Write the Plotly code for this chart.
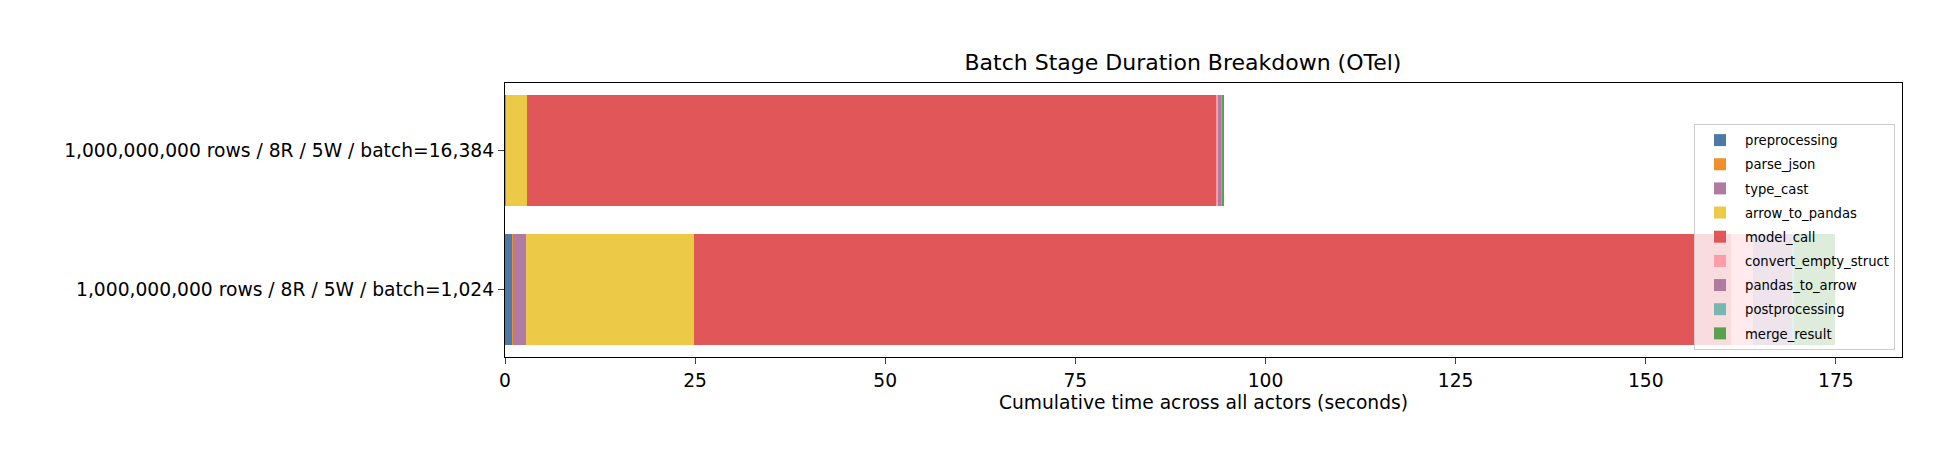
import plotly.graph_objects as go

categories = [
    "1,000,000,000 rows / 8R / 5W / batch=1,024",
    "1,000,000,000 rows / 8R / 5W / batch=16,384",
]
stages = [
    "preprocessing", "parse_json", "type_cast", "arrow_to_pandas", "model_call",
    "convert_empty_struct", "pandas_to_arrow", "postprocessing", "merge_result",
]
# seconds per stage: [batch=1,024, batch=16,384]
preprocessing = [0.92, 0.05]
parse_json = [0.18, 0.02]
type_cast = [1.66, 0.08]
arrow_to_pandas = [22.1, 2.78]
model_call = [136.4, 90.6]
convert_empty_struct = [2.8, 0.22]
pandas_to_arrow = [5.3, 0.45]
postprocessing = [0.1, 0.05]
merge_result = [5.4, 0.35]

values = [preprocessing, parse_json, type_cast, arrow_to_pandas, model_call,
          convert_empty_struct, pandas_to_arrow, postprocessing, merge_result]
colors = ["#4e79a7", "#f28e2b", "#b07aa1", "#edc948", "#e15759",
          "#ff9da7", "#b07aa1", "#76b7b2", "#59a14f"]
x_ticks = [0, 25, 50, 75, 100, 125, 150, 175]

FONT = "DejaVu Sans"
fig = go.Figure()
for name, vals, col in zip(stages, values, colors):
    fig.add_trace(go.Bar(
        y=categories, x=vals, name=name, orientation="h",
        marker=dict(color=col, line=dict(width=0)),
        legendgroup=name,
    ))

fig.update_layout(
    width=1954, height=468,
    barmode="stack", bargap=0.2,
    plot_bgcolor="white", paper_bgcolor="white",
    margin=dict(l=505, r=52, t=83, b=111),
    font=dict(family=FONT, size=18.7, color="#000"),
    title=dict(text="Batch Stage Duration Breakdown (OTel)", x=0.4853, xref="paper",
               xanchor="center",
               y=(468 - 62) / 468, yanchor="middle", yref="container",
               font=dict(size=22, family=FONT, color="#000")),
    legend=dict(x=0.995, xanchor="right", y=0.0255, yanchor="bottom",
                bgcolor="rgba(255,255,255,0.8)", bordercolor="#cccccc", borderwidth=1,
                font=dict(size=13.2, family=FONT), traceorder="grouped",
                tracegroupgap=4, itemwidth=40),
    xaxis=dict(range=[0, 183.7], tickvals=x_ticks, ticks="outside", ticklen=6,
               tickwidth=1.3, showline=True, linecolor="#000", linewidth=1.3,
               mirror=True, showgrid=False, zeroline=False,
               title=dict(text="Cumulative time across all actors (seconds)",
                          standoff=6, font=dict(size=18.7))),
    yaxis=dict(type="category", range=[-0.49, 1.49], ticks="outside", ticklen=6,
               tickwidth=1.3, showline=True, linecolor="#000", linewidth=1.3,
               mirror=True, showgrid=False, zeroline=False),
)
fig.write_html("out.html")
